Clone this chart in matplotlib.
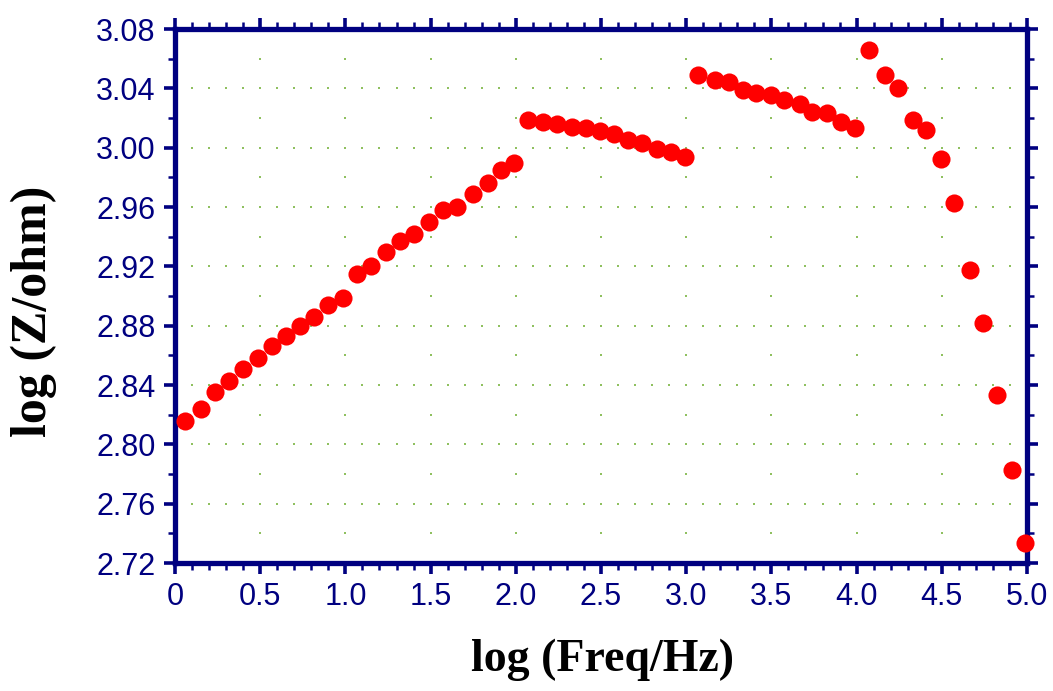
import numpy as np
import matplotlib
matplotlib.use("Agg")
import matplotlib.pyplot as plt
from matplotlib.ticker import MultipleLocator

# impedance modulus vs frequency (log-log)
log_freq = [0.059, 0.153, 0.235, 0.317, 0.399, 0.487, 0.569, 0.651, 0.734, 0.816,
            0.898, 0.986, 1.068, 1.150, 1.238, 1.320, 1.403, 1.491, 1.573, 1.655,
            1.749, 1.837, 1.913, 1.989,
            2.072, 2.160, 2.242, 2.330, 2.412, 2.494, 2.576, 2.658, 2.741, 2.829,
            2.911, 2.993,
            3.069, 3.169, 3.251, 3.333, 3.410, 3.498, 3.574, 3.668, 3.738, 3.826,
            3.908, 3.991,
            4.073, 4.167, 4.243, 4.331, 4.407, 4.495, 4.572, 4.665, 4.742, 4.824,
            4.912, 4.988]
log_z = [2.8157, 2.8238, 2.835, 2.843, 2.851, 2.858, 2.866, 2.873, 2.880, 2.886,
         2.894, 2.899, 2.915, 2.920, 2.930, 2.937, 2.942, 2.950, 2.958, 2.960,
         2.969, 2.976, 2.985, 2.990,
         3.019, 3.017, 3.016, 3.014, 3.013, 3.011, 3.009, 3.005, 3.003, 2.999,
         2.997, 2.994,
         3.049, 3.0456, 3.0443, 3.0389, 3.0368, 3.0355, 3.0321, 3.0294, 3.0240, 3.0234,
         3.0173, 3.0132,
         3.0658, 3.049, 3.040, 3.0186, 3.0119, 2.9923, 2.963, 2.9175, 2.8818, 2.833,
         2.7826, 2.7334]

navy = "#000080"
tick_font = ["Liberation Sans Narrow", "Liberation Sans", "DejaVu Sans"]

fig = plt.figure(figsize=(10.53, 6.91), dpi=100)
ax = fig.add_axes([0.1662, 0.1852, 0.9753 - 0.1662, 0.958 - 0.1852])

ax.set_xlim(0, 5.0)
ax.set_ylim(2.72, 3.08)
ax.xaxis.set_major_locator(MultipleLocator(0.5))
ax.xaxis.set_minor_locator(MultipleLocator(0.1))
ax.yaxis.set_major_locator(MultipleLocator(0.04))
ax.yaxis.set_minor_locator(MultipleLocator(0.02))

# dotted grid: dots on major lines at the minor tick spacing
gx, gy = [], []
for yv in np.arange(2.76, 3.045, 0.04):
    for xv in np.arange(0.1, 4.95, 0.1):
        gx.append(xv); gy.append(yv)
for xv in np.arange(0.5, 4.55, 0.5):
    for yv in np.arange(2.74, 3.075, 0.02):
        gx.append(xv); gy.append(yv)
ax.scatter(gx, gy, s=2.5, color="#8fc060", marker="s", linewidths=0, zorder=1)

ax.scatter(log_freq, log_z, s=170, color="#ff0000", linewidths=0, zorder=3,
           clip_on=False)

for sp in ax.spines.values():
    sp.set_color(navy)
    sp.set_linewidth(3.8)

ax.tick_params(which="both", direction="out", color=navy, top=True, right=True,
               labeltop=False, labelright=False)
ax.tick_params(which="major", length=8, width=2.6, pad=6)
ax.tick_params(which="minor", length=5, width=1.8)
ax.set_xticks(np.arange(0, 5.01, 0.5))
ax.set_xticklabels(["0", "0.5", "1.0", "1.5", "2.0", "2.5", "3.0", "3.5",
                    "4.0", "4.5", "5.0"])
ax.set_yticks(np.arange(2.72, 3.081, 0.04))
ax.set_yticklabels([f"{v:.2f}" for v in np.arange(2.72, 3.081, 0.04)])
for lab in ax.get_xticklabels() + ax.get_yticklabels():
    lab.set_family(tick_font)
    lab.set_fontsize(22)
    lab.set_color(navy)

fig.text(0.572, 0.045, "log (Freq/Hz)", ha="center", va="center",
         family=["Liberation Serif", "DejaVu Serif"], weight="bold", fontsize=33)
fig.text(0.032, 0.55, "log (Z/ohm)", ha="center", va="center", rotation=90,
         family=["Liberation Serif", "DejaVu Serif"], weight="bold", fontsize=36)

fig.savefig("out.png", dpi=100)
